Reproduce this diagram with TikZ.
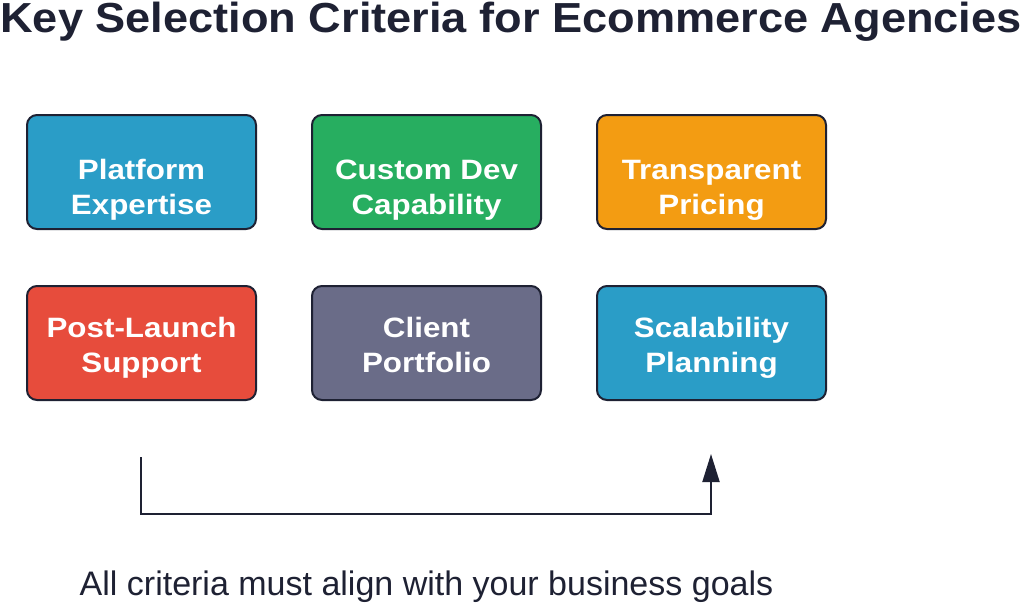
\documentclass[tikz,border=0pt]{standalone}
\usepackage{fontspec}
\setmainfont{Liberation Sans}
\newfontfamily\boxfont[FakeStretch=1.12]{Liberation Sans}
\newfontfamily\titlefont[FakeStretch=1.075]{Liberation Sans}
\usetikzlibrary{arrows.meta}
\definecolor{cblue}{HTML}{2A9DC7}
\definecolor{cgreen}{HTML}{27AE60}
\definecolor{corange}{HTML}{F39C12}
\definecolor{cred}{HTML}{E74C3C}
\definecolor{cslate}{HTML}{6A6C88}
\definecolor{cdark}{HTML}{1E2133}
\tikzset{
  crit/.style={draw=cdark, line width=2pt, rounded corners=10pt,
    minimum width=229pt, minimum height=114pt, inner sep=0pt},
  crittext/.style={text=white, inner sep=0pt, anchor=base,
    font=\boxfont\fontsize{28}{35}\selectfont\bfseries},
  conn/.style={draw=cdark, line width=2pt},
}
\begin{document}
\begin{tikzpicture}[x=1pt,y=-1pt]
\useasboundingbox (0,0) rectangle (1024,602);
\fill[white] (0,0) rectangle (1024,602);
\node[font=\titlefont\fontsize{42}{48}\selectfont\bfseries, text=cdark, anchor=base] (title) at (511,33) {Key Selection Criteria for Ecommerce Agencies};
\node[crit, fill=cblue] (b1) at (141.5,172) {};
\node[crit, fill=cgreen] (b2) at (426.5,172) {};
\node[crit, fill=corange] (b3) at (711.5,172) {};
\node[crit, fill=cred] (b4) at (141.5,343) {};
\node[crit, fill=cslate] (b5) at (426.5,343) {};
\node[crit, fill=cblue] (b6) at (711.5,343) {};
\foreach \b/\l/\m in {b1/Platform/Expertise, b2/Custom Dev/Capability, b3/Transparent/Pricing}{
  \node[crittext] (\b a) at ([yshift=-7pt]\b.center) {\l};
  \node[crittext] (\b b) at ([yshift=-42pt]\b.center) {\m};
}
\foreach \b/\l/\m in {b4/Post-Launch/Support, b5/Client/Portfolio, b6/Scalability/Planning}{
  \node[crittext] (\b a) at ([yshift=6pt]\b.center) {\l};
  \node[crittext] (\b b) at ([yshift=-29.5pt]\b.center) {\m};
}
\coordinate (s) at (141,457);
\coordinate (e) at (711,454);
\draw[conn, -{Triangle[length=28pt,width=17pt]}] (s) |- (711,514) -- (e);
\node[font=\fontsize{34}{40}\selectfont, text=cdark, anchor=base] (note) at (426.5,595) {All criteria must align with your business goals};
\end{tikzpicture}
\end{document}
